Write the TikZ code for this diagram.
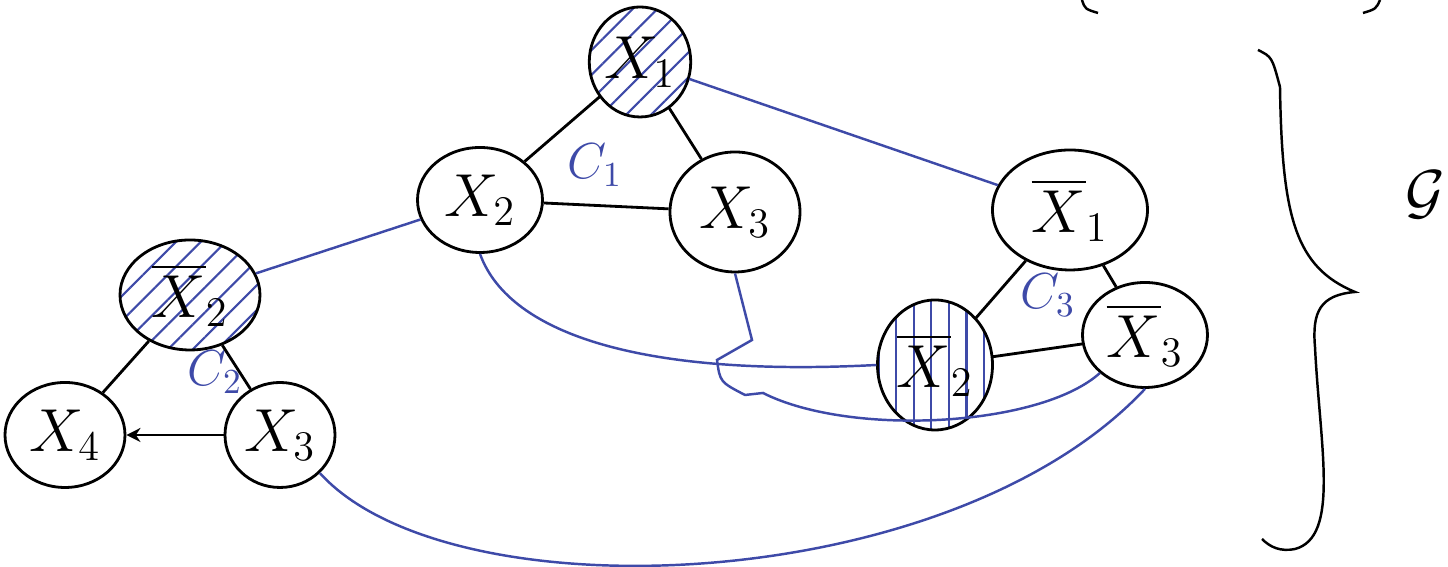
\documentclass[tikz,border=0pt]{standalone}
\usepackage{amsmath,amssymb}
\usepackage{xcolor}
\usetikzlibrary{arrows.meta,shapes.geometric,patterns.meta}
\definecolor{pen}{RGB}{62,74,168}

\begin{document}
\begin{tikzpicture}[font=\LARGE,
    var/.style={draw, ellipse, line width=0.8pt, inner sep=0pt},
    link/.style={pen, line width=0.7pt},
    hatch/.style={pattern={Lines[angle=#1,distance=5pt,line width=0.6pt]}, pattern color=pen},
    clab/.style={pen, font=\Large}]
    \useasboundingbox (0,0) rectangle (14.48,5.67);
    % ---- cluster C1 : X1, X2, X3
    \node[var, hatch=45, minimum width=1.0cm, minimum height=1.1cm] (a1) at (6.40,5.05) {$X_1$};
    \node[var, minimum width=1.25cm, minimum height=1.05cm] (a2) at (4.80,3.67) {$X_2$};
    \node[var, minimum width=1.3cm, minimum height=1.2cm]   (a3) at (7.35,3.55) {$X_3$};
    \node[clab] (c1lab) at (5.95,4.02) {$C_1$};
    % ---- cluster C2 : X2-bar, X4, X3
    \node[var, hatch=45, minimum width=1.4cm, minimum height=1.1cm] (b2) at (1.90,2.72) {$\overline{X}_2$};
    \node[var, minimum width=1.2cm, minimum height=1.05cm] (b4) at (0.65,1.32) {$X_4$};
    \node[var, minimum width=1.1cm, minimum height=1.05cm] (b3) at (2.80,1.32) {$X_3$};
    \node[clab] (c2lab) at (2.15,1.95) {$C_2$};
    % ---- cluster C3 : all negated
    \node[var, minimum width=1.55cm, minimum height=1.2cm] (c1) at (10.70,3.57) {$\overline{X}_1$};
    \node[var, hatch=90, minimum width=1.15cm, minimum height=1.3cm] (c2) at (9.35,2.02) {$\overline{X}_2$};
    \node[var, minimum width=1.25cm, minimum height=1.05cm] (c3) at (11.45,2.32) {$\overline{X}_3$};
    \node[clab] (c3lab) at (10.48,2.72) {$C_3$};
    % ---- edges inside the clusters
    \foreach \u/\v in {a1/a2,a1/a3,a2/a3,b2/b4,b2/b3,c1/c2,c1/c3,c2/c3}
      { \draw[line width=0.8pt] (\u) -- (\v); }
    \draw[line width=0.8pt,-{Stealth[length=4pt,width=4pt]}] (b3) -- (b4);
    % ---- links between a literal and its negation
    \draw[link] (a1) -- (c1);
    \draw[link] (a2) -- (b2);
    \draw[link] (a2.south) .. controls (5.1,2.3) and (6.5,1.9) .. (c2.west);
    \draw[link] (a3.south) -- (7.52,2.27) -- (7.17,2.07)
      .. controls (7.2,1.85) .. (7.45,1.72) -- (7.63,1.74)
      .. controls (8.5,1.3) and (10.4,1.4) .. (c3.south west);
    \draw[link] (b3.south east) .. controls (4.5,-0.5) and (9.5,-0.3) .. (c3.south);
    % ---- brace and graph name
    \draw[line width=0.7pt] (12.58,5.17) .. controls (12.72,5.10) .. (12.80,4.80)
      .. controls (12.82,3.50) and (12.95,3.00) .. (13.55,2.75)
      .. controls (13.20,2.72) and (13.12,2.55) .. (13.15,2.20)
      .. controls (13.20,1.20) and (13.40,0.30) .. (12.95,0.18)
      .. controls (12.80,0.15) and (12.70,0.20) .. (12.62,0.28);
    \node[font=\LARGE] (gname) at (14.25,3.72) {$\mathcal{G}$};
    % ---- cut-off strokes at the top edge
    \draw[line width=0.7pt] (10.82,5.67) .. controls (10.85,5.58) .. (10.98,5.54);
    \draw[line width=0.7pt] (13.80,5.67) .. controls (13.76,5.58) .. (13.63,5.54);
  \end{tikzpicture}
\end{document}
